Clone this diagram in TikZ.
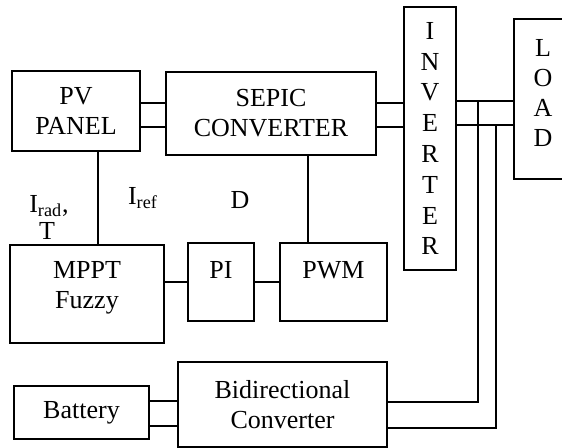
\documentclass[tikz,border=0pt]{standalone}
\usepackage{fontspec}
\setmainfont{Liberation Serif}
\usepackage{tikz}
\usetikzlibrary{positioning, calc}

\begin{document}
\begin{tikzpicture}[x=0.5pt, y=-0.5pt, font=\fontsize{13}{15}\selectfont,
    block/.style={draw, line width=0.7pt, inner sep=0pt, align=center},
    wire/.style={line width=0.7pt},
    sig/.style={inner sep=0pt}]
    \useasboundingbox (0,0) rectangle (562,448);

    % Power stage
    \node[block, minimum width=64pt, minimum height=40pt] (pv) at (76,111) {PV\\PANEL};
    \node[block, minimum width=105pt, minimum height=41.5pt] (sepic) at (271,113.5) {SEPIC\\CONVERTER};
    \node[block, minimum width=26pt, minimum height=131.5pt, font=\fontsize{13}{15.4}\selectfont] (inv) at (430,138.5) {I\\N\\V\\E\\R\\T\\E\\R};
    \node[block, minimum width=29pt, minimum height=80pt,
        label={[align=center, yshift=3pt]center:L\\O\\A\\D}] (load) at (543,99) {};

    % Control loop
    \node[block, minimum width=77pt, minimum height=49pt,
        label={[align=center, yshift=3pt]center:MPPT\\Fuzzy}] (mppt) at (87,294) {};
    \node[block, minimum width=33pt, minimum height=39pt,
        label={[yshift=6pt]center:PI}] (pi) at (221,282) {};
    \node[block, minimum width=53.5pt, minimum height=39pt,
        label={[yshift=6pt]center:PWM}] (pwm) at (333.5,282) {};

    % Storage
    \node[block, minimum width=67.5pt, minimum height=26.5pt] (bat) at (81.5,412.5) {Battery};
    \node[block, minimum width=104.5pt, minimum height=42.5pt] (bidir) at (282.5,404.5) {Bidirectional\\Converter};

    % Signal labels
    \node[sig] (irad) at (49,206) {I\textsubscript{rad},};
    \node[sig] (temp) at (47,231) {T};
    \node[sig] (iref) at (143,198) {I\textsubscript{ref}};
    \node[sig] (duty) at (240,200) {D};

    % Double lines between power blocks
    \foreach \yy in {103,127} {
        \draw[wire] (pv.east |- 0,\yy) -- (sepic.west |- 0,\yy);
        \draw[wire] (sepic.east |- 0,\yy) -- (inv.west |- 0,\yy);
    }
    \foreach \yy in {101,125}
        \draw[wire] (inv.east |- 0,\yy) -- (load.west |- 0,\yy);
    \foreach \yy in {401,426}
        \draw[wire] (bat.east |- 0,\yy) -- (bidir.west |- 0,\yy);

    % Battery branch to the AC bus
    \coordinate (tapa) at (478,101);
    \coordinate (tapb) at (496,125);
    \draw[wire] (bidir.east |- 0,402) -| (tapa);
    \draw[wire] (bidir.east |- 0,428) -| (tapb);

    % Control connections
    \draw[wire] (pv.south -| 98,0) -- (mppt.north -| 98,0);
    \draw[wire] (sepic.south -| 308,0) -- (pwm.north -| 308,0);
    \draw[wire] (pi.west -| mppt.east) -- (pi.west);
    \draw[wire] (pi.east) -- (pwm.west);
\end{tikzpicture}
\end{document}
